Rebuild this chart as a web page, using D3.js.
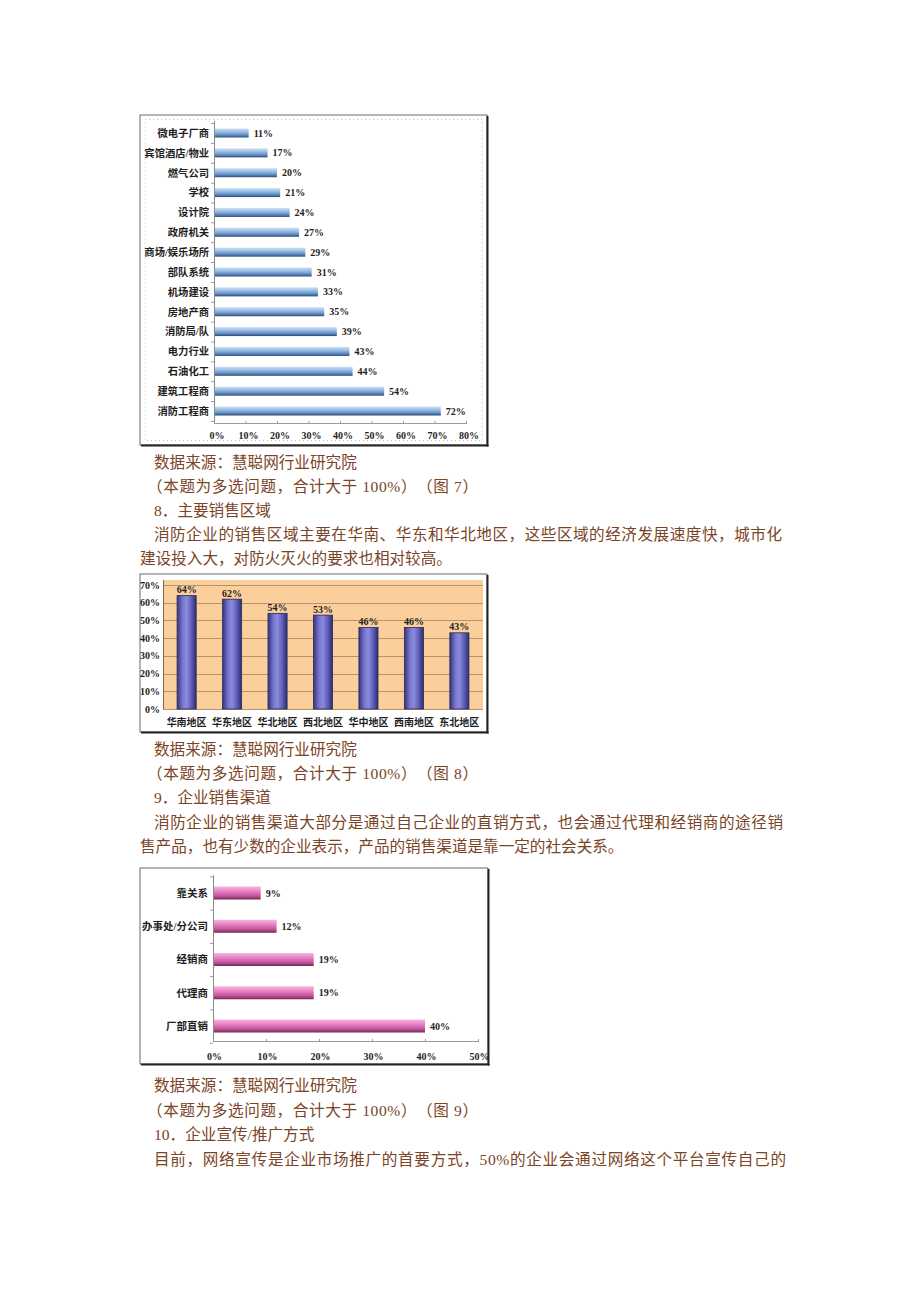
<!DOCTYPE html>
<html><head><meta charset="utf-8">
<script src="https://cdn.jsdelivr.net/npm/d3@7"></script>
<style>body{margin:0;background:#fff}svg{display:block}text{text-spacing-trim:space-all}</style>
</head><body><svg id="c" width="920" height="1302"></svg>
<script>
// ---- Data ----
const industryCats = ["微电子厂商","宾馆酒店/物业","燃气公司","学校","设计院","政府机关","商场/娱乐场所","部队系统","机场建设","房地产商","消防局/队","电力行业","石油化工","建筑工程商","消防工程商"];
const industryVals = [11,17,20,21,24,27,29,31,33,35,39,43,44,54,72];
const industryTicks = [0,10,20,30,40,50,60,70,80];

const regionCats = ["华南地区","华东地区","华北地区","西北地区","华中地区","西南地区","东北地区"];
const regionVals = [64,62,54,53,46,46,43];
const regionTicks = [0,10,20,30,40,50,60,70];

const channelCats = ["靠关系","办事处/分公司","经销商","代理商","厂部直销"];
const channelVals = [9,12,19,19,40];
const channelTicks = [0,10,20,30,40,50];

const textLines = [
  {t:"数据来源：慧聪网行业研究院", x:154, y:462},
  {t:"（本题为多选问题，合计大于 100%）（图 7）", x:147, y:486, w:331},
  {t:"8．主要销售区域", x:154, y:510},
  {t:"消防企业的销售区域主要在华南、华东和华北地区，这些区域的经济发展速度快，城市化", x:154, y:534, w:628},
  {t:"建设投入大，对防火灭火的要求也相对较高。", x:140, y:558},
  {t:"数据来源：慧聪网行业研究院", x:154, y:749},
  {t:"（本题为多选问题，合计大于 100%）（图 8）", x:147, y:773, w:331},
  {t:"9．企业销售渠道", x:154, y:797},
  {t:"消防企业的销售渠道大部分是通过自己企业的直销方式，也会通过代理和经销商的途径销", x:154, y:822, w:629},
  {t:"售产品，也有少数的企业表示，产品的销售渠道是靠一定的社会关系。", x:140, y:846},
  {t:"数据来源：慧聪网行业研究院", x:154, y:1085},
  {t:"（本题为多选问题，合计大于 100%）（图 9）", x:147, y:1110, w:331},
  {t:"10．企业宣传/推广方式", x:154, y:1134},
  {t:"目前，网络宣传是企业市场推广的首要方式，50%的企业会通过网络这个平台宣传自己的", x:154, y:1159, w:632}
];

const svg = d3.select("#c");
svg.append("rect").attr("width",920).attr("height",1302).attr("fill","#fff");
const defs = svg.append("defs");
function grad(id, stops, vertical){
  const g = defs.append("linearGradient").attr("id",id)
    .attr("x1",0).attr("y1",0).attr("x2",vertical?0:1).attr("y2",vertical?1:0);
  stops.forEach(s=>g.append("stop").attr("offset",s[0]).attr("stop-color",s[1]));
}
grad("gBlue",[[0,"#cfe0f4"],[0.35,"#9cc0e6"],[0.65,"#6b98cc"],[0.88,"#45699c"],[1,"#2d4570"]],true);
grad("gPink",[[0,"#f7b6dc"],[0.4,"#e67cc2"],[0.7,"#c4589f"],[0.9,"#98386f"],[1,"#6e2550"]],true);
grad("gPurple",[[0,"#34347e"],[0.3,"#7878d0"],[0.5,"#8a8ade"],[0.75,"#5e5eb6"],[1,"#2c2c72"]],false);

const FONT = "'Liberation Serif','Noto Sans CJK SC',serif";
const LBL = "#1e1e1e";

function frame(x,y,w,h){
  svg.append("rect").attr("x",x).attr("y",y).attr("width",w).attr("height",h)
    .attr("fill","#fff").attr("stroke","#6a6a6a").attr("stroke-width",1);
  svg.append("line").attr("x1",x+w+0.5).attr("x2",x+w+0.5).attr("y1",y+1).attr("y2",y+h+1.5).attr("stroke","#222").attr("stroke-width",2);
  svg.append("line").attr("x1",x+1).attr("x2",x+w+1.5).attr("y1",y+h+0.5).attr("y2",y+h+0.5).attr("stroke","#222").attr("stroke-width",2);
}

function hbar(cats, vals, ticks, o){
  const g = svg.append("g");
  const x = d3.scaleLinear().domain([0, ticks[ticks.length-1]]).range([o.x0, o.x1]);
  const y = d3.scalePoint().domain(cats).range([o.c0, o.c1]);
  const step = y.step();
  if (o.dotted) g.append("rect").attr("x",o.dotted[0]).attr("y",o.dotted[1]).attr("width",o.dotted[2]).attr("height",o.dotted[3])
      .attr("fill","none").attr("stroke","#b8c8b8").attr("stroke-dasharray","1,3");
  g.append("line").attr("x1",x(0)+0.5).attr("x2",x(0)+0.5).attr("y1",o.axisTop).attr("y2",o.axisY).attr("stroke","#8a8a8a");
  g.append("line").attr("x1",x(0)).attr("x2",x(ticks[ticks.length-1])).attr("y1",o.axisY+0.5).attr("y2",o.axisY+0.5).attr("stroke","#9a9a9a");
  g.selectAll(".xt").data(ticks).join("line").attr("x1",d=>x(d)+0.5).attr("x2",d=>x(d)+0.5)
    .attr("y1",o.axisY-2).attr("y2",o.axisY+1).attr("stroke","#9a9a9a");
  const bounds = cats.map(c=>y(c)-step/2).concat([y(cats[cats.length-1])+step/2]);
  g.selectAll(".yt").data(bounds).join("line").attr("x1",x(0)-3).attr("x2",x(0))
    .attr("y1",d=>d+0.5).attr("y2",d=>d+0.5).attr("stroke","#9a9a9a");
  g.selectAll(".bar").data(cats).join("rect")
    .attr("x",x(0)+1).attr("y",c=>y(c)-o.barH/2)
    .attr("width",(c,i)=>x(vals[i])-x(0)-1).attr("height",o.barH)
    .attr("fill",`url(#${o.grad})`);
  g.selectAll(".vl").data(cats).join("text")
    .attr("x",(c,i)=>x(vals[i])+5).attr("y",c=>y(c)+3.6)
    .attr("font-family",FONT).attr("font-weight","bold").attr("font-size",o.fs).attr("fill",LBL)
    .text((c,i)=>vals[i]+"%");
  g.selectAll(".cl").data(cats).join("text")
    .attr("x",o.labelX).attr("y",c=>y(c)+3.8).attr("text-anchor","end")
    .attr("font-family",FONT).attr("font-weight","bold").attr("font-size",o.cfs).attr("fill",LBL)
    .text(c=>c);
  g.selectAll(".tl").data(ticks).join("text")
    .attr("x",d=>x(d)+o.tOff).attr("y",o.tickY).attr("text-anchor","middle")
    .attr("font-family",FONT).attr("font-weight","bold").attr("font-size",o.fs).attr("fill",LBL)
    .text(d=>d+"%");
}

// Chart 7
frame(140,115,347,330);
hbar(industryCats, industryVals, industryTicks, {
  x0:214, x1:466, c0:133, c1:411, barH:9, axisTop:121, axisY:423, tickY:439, tOff:3,
  labelX:209, grad:"gBlue", fs:10, cfs:10.3, dotted:[145,119.5,337,321]
});

// Chart 8
frame(140,574,347,158);
(function(){
  const g = svg.append("g");
  const x = d3.scaleBand().domain(regionCats).range([163.9,482.1]).paddingInner(0.58).paddingOuter(0.29);
  const y = d3.scaleLinear().domain([0,70]).range([709,585]);
  g.append("rect").attr("x",163).attr("y",580).attr("width",320).attr("height",129).attr("fill","#fbcf9c");
  g.selectAll(".gl").data(regionTicks).join("line")
    .attr("x1",163).attr("x2",483).attr("y1",d=>Math.round(y(d))+0.5).attr("y2",d=>Math.round(y(d))+0.5)
    .attr("stroke","#b8946c");
  g.append("line").attr("x1",163.5).attr("x2",163.5).attr("y1",580).attr("y2",709).attr("stroke","#7a6a5a");
  g.selectAll(".bar").data(regionCats).join("rect")
    .attr("x",c=>x(c)).attr("y",(c,i)=>y(regionVals[i])).attr("width",x.bandwidth())
    .attr("height",(c,i)=>y(0)-y(regionVals[i]))
    .attr("fill","url(#gPurple)").attr("stroke","#262660").attr("stroke-width",0.8);
  g.selectAll(".vl").data(regionCats).join("text")
    .attr("x",c=>x(c)+x.bandwidth()/2).attr("y",(c,i)=>y(regionVals[i])-2.5).attr("text-anchor","middle")
    .attr("font-family",FONT).attr("font-weight","bold").attr("font-size",10).attr("fill",LBL)
    .text((c,i)=>regionVals[i]+"%");
  g.selectAll(".tl").data(regionTicks).join("text")
    .attr("x",160).attr("y",d=>y(d)+3.6).attr("text-anchor","end")
    .attr("font-family",FONT).attr("font-weight","bold").attr("font-size",10).attr("fill",LBL)
    .text(d=>d+"%");
  g.selectAll(".cl").data(regionCats).join("text")
    .attr("x",c=>x(c)+x.bandwidth()/2).attr("y",725.5).attr("text-anchor","middle")
    .attr("font-family",FONT).attr("font-weight","bold").attr("font-size",10).attr("fill",LBL)
    .text(c=>c);
})();

// Chart 9
frame(140,868,348,196);
hbar(channelCats, channelVals, channelTicks, {
  x0:213, x1:478, c0:893, c1:1026, barH:13, axisTop:875, axisY:1041, tickY:1060, tOff:1.5,
  labelX:208, grad:"gPink", fs:10, cfs:10.5, dotted:null
});

// Body text
svg.append("g").selectAll("text").data(textLines).join("text")
  .attr("x",d=>d.x).attr("y",d=>d.y+6)
  .attr("font-family",FONT).attr("font-size",15.6).attr("fill","#7b4426")
  .each(function(d){ if(d.w) d3.select(this).attr("textLength",d.w).attr("lengthAdjust","spacing"); })
  .text(d=>d.t);
</script>
</body></html>
